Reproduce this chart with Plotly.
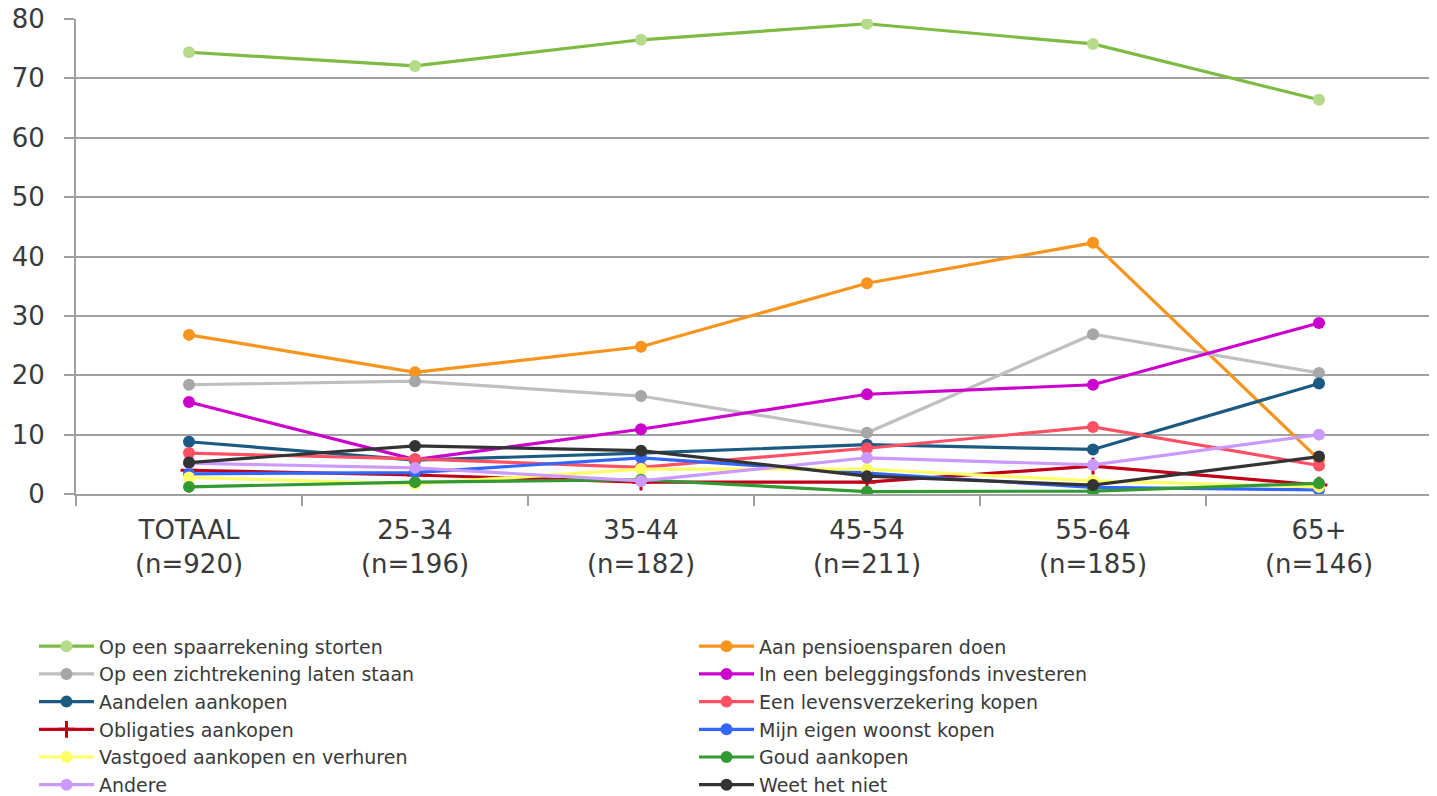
import plotly.graph_objects as go

categories = ["TOTAAL<br>(n=920)", "25-34<br>(n=196)", "35-44<br>(n=182)",
              "45-54<br>(n=211)", "55-64<br>(n=185)", "65+<br>(n=146)"]

spaarrekening = [74.4, 72.1, 76.5, 79.2, 75.8, 66.4]
pensioensparen = [26.8, 20.5, 24.8, 35.5, 42.3, 5.8]
zichtrekening = [18.4, 19.0, 16.5, 10.3, 26.9, 20.4]
beleggingsfonds = [15.5, 5.8, 10.9, 16.8, 18.4, 28.8]
aandelen = [8.8, 5.7, 6.9, 8.3, 7.5, 18.6]
levensverzekering = [6.9, 5.9, 4.5, 7.7, 11.3, 4.8]
obligaties = [4.0, 3.2, 2.0, 2.0, 4.7, 1.5]
woonst = [3.4, 3.6, 6.1, 3.5, 1.1, 0.7]
vastgoed = [2.8, 1.7, 4.2, 4.2, 2.2, 1.2]
goud = [1.2, 2.0, 2.4, 0.4, 0.5, 1.8]
andere = [5.2, 4.4, 2.2, 6.1, 4.9, 10.0]
weet_niet = [5.3, 8.1, 7.3, 3.0, 1.5, 6.3]

series = [
    ("Op een spaarrekening storten", spaarrekening, "#7DBB42", "#B5DB8A", "circle"),
    ("Aan pensioensparen doen", pensioensparen, "#F7941D", "#F7941D", "circle"),
    ("Op een zichtrekening laten staan", zichtrekening, "#BFBFBF", "#A6A6A6", "circle"),
    ("In een beleggingsfonds investeren", beleggingsfonds, "#CC00CC", "#CC00CC", "circle"),
    ("Aandelen aankopen", aandelen, "#1B5A82", "#1B5A82", "circle"),
    ("Een levensverzekering kopen", levensverzekering, "#FF5064", "#FF5064", "circle"),
    ("Obligaties aankopen", obligaties, "#C00018", "#C00018", "cross-thin"),
    ("Mijn eigen woonst kopen", woonst, "#3366FF", "#3366FF", "circle"),
    ("Vastgoed aankopen en verhuren", vastgoed, "#FFFF66", "#FFFF66", "circle"),
    ("Goud aankopen", goud, "#339933", "#339933", "circle"),
    ("Andere", andere, "#CC99FF", "#CC99FF", "circle"),
    ("Weet het niet", weet_niet, "#333333", "#333333", "circle"),
]

fig = go.Figure()
for name, vals, lc, mc, sym in series:
    marker = dict(color=mc, size=12, symbol=sym)
    if sym == "cross-thin":
        marker = dict(color=mc, size=12, symbol=sym, line=dict(color=mc, width=3))
    fig.add_trace(go.Scatter(x=categories, y=vals, name=name, mode="lines+markers",
                             line=dict(color=lc, width=3.2), marker=marker))

# the page body adds an 8px offset, so the figure is sized to fill the remaining window
fig.update_layout(
    width=1429, height=788,
    paper_bgcolor="white", plot_bgcolor="white",
    margin=dict(l=68, r=5, t=11, b=302, autoexpand=False),
    font=dict(family="DejaVu Sans", color="#3A3A3A"),
    xaxis=dict(type="category", showgrid=False, showline=True, linecolor="#A0A0A0", linewidth=2,
               ticks="outside", tickson="boundaries", ticklen=10, tickcolor="#A0A0A0", tickwidth=2,
               ticklabelstandoff=12, automargin=False,
               tickfont=dict(size=26, family="DejaVu Sans", color="#3A3A3A"), range=[-0.5, 5.5]),
    yaxis=dict(range=[0, 80], dtick=10, showgrid=True, gridcolor="#A0A0A0", gridwidth=2,
               showline=True, linecolor="#A0A0A0", linewidth=2, zeroline=False,
               ticks="outside", ticklen=10, tickcolor="#A0A0A0", tickwidth=2,
               ticklabelstandoff=14, ticklabeloverflow="allow", automargin=False,
               tickfont=dict(size=26, family="DejaVu Sans", color="#3A3A3A")),
    legend=dict(orientation="h", xref="container", yref="container",
                x=0.0182, xanchor="left", y=0.2140, yanchor="top",
                entrywidth=590, entrywidthmode="pixels", itemwidth=55,
                font=dict(size=19, family="DejaVu Sans", color="#3A3A3A"),
                tracegroupgap=0, traceorder="normal"),
    showlegend=True,
)

fig.write_html("out.html")
